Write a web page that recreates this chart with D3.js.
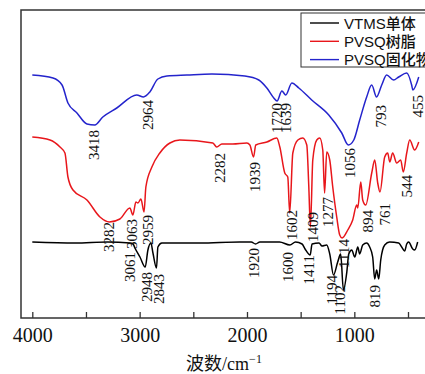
<!DOCTYPE html>
<html>
<head>
<meta charset="utf-8">
<script src="https://cdn.jsdelivr.net/npm/d3@7"></script>
<style>
  html, body { margin: 0; padding: 0; background: #fff; }
  svg { display: block; }
</style>
</head>
<body>
<div id="chart"></div>
<script>
// FTIR spectra, transmittance in arbitrary offset units
const blueWn = [4000, 3807, 3723, 3668, 3584, 3491, 3418, 3343, 3213, 3027, 2964, 2905, 2830, 2746, 2560, 2327, 2020, 1890, 1815, 1750, 1720, 1675, 1639, 1582, 1517, 1397, 1238, 1117, 1056, 1005, 950, 885, 838, 793, 745, 699, 634, 587, 512, 466, 455, 400];
const blueT = [243, 240, 233, 215, 205, 194, 193, 201, 210, 223, 221, 226, 239, 242, 243, 244, 242, 238, 230, 220, 217, 227, 223, 235, 230, 218, 203, 185, 173, 178, 198, 221, 233, 221, 233, 243, 238, 241, 245, 233, 228, 241];

const redWn = [4000, 3835, 3742, 3696, 3668, 3621, 3491, 3370, 3282, 3184, 3091, 3063, 3035, 3016, 2988, 2959, 2942, 2886, 2812, 2718, 2625, 2318, 2282, 2234, 2132, 2001, 1973, 1939, 1918, 1815, 1722, 1694, 1648, 1620, 1602, 1573, 1526, 1480, 1443, 1424, 1409, 1387, 1350, 1322, 1294, 1277, 1257, 1229, 1201, 1164, 1136, 1114, 1061, 1015, 978, 968, 940, 922, 894, 838, 810, 782, 761, 717, 689, 670, 643, 605, 568, 544, 512, 484, 438, 400];
const redT = [181, 178, 171, 165, 141, 128, 118, 101, 96, 99, 110, 103, 116, 115, 119, 106, 131, 151, 165, 175, 178, 175, 171, 174, 174, 175, 173, 161, 173, 176, 180, 171, 145, 141, 105, 165, 178, 180, 173, 131, 91, 158, 178, 180, 168, 125, 166, 158, 131, 101, 83, 80, 88, 98, 113, 110, 136, 118, 113, 145, 158, 135, 126, 161, 165, 156, 165, 155, 158, 146, 165, 178, 168, 176];

const blackWn = [4000, 3600, 3300, 3090, 3061, 3044, 2997, 2948, 2923, 2895, 2876, 2843, 2830, 2793, 2440, 2067, 1960, 1920, 1880, 1697, 1600, 1548, 1487, 1459, 1411, 1394, 1329, 1301, 1257, 1229, 1194, 1155, 1127, 1102, 1070, 1052, 1024, 996, 968, 950, 922, 885, 857, 829, 810, 792, 773, 754, 717, 671, 587, 559, 531, 512, 494, 456, 438, 410];
const blackT = [76, 75, 76, 75, 74, 70, 61, 51, 68, 75, 65, 50, 71, 75, 75, 76, 76, 74, 76, 76, 73, 76, 74, 69, 63, 74, 75, 72, 73, 64, 43, 56, 64, 28, 46, 64, 68, 61, 71, 64, 73, 75, 71, 61, 39, 48, 39, 58, 73, 76, 75, 71, 67, 74, 76, 69, 68, 76];

const seriesNames = ['VTMS单体', 'PVSQ树脂', 'PVSQ固化物'];
const seriesColors = ['#000000', '#e8161b', '#2424cc'];

// peak annotations: label text, wavenumber position, top end (T units)
const peakText = ['3418', '2964', '1720', '1639', '1056', '793', '455',
  '3282', '3063', '2959', '2282', '1939', '1602', '1409', '1277', '1114', '894', '761', '544',
  '3061', '2948', '2843', '1920', '1600', '1411', '1194', '1102', '819'];
const peakPos = [3426, 2923, 1722, 1638, 1042, 753, 409,
  3286, 3072, 2923, 2257, 1927, 1581, 1383, 1243, 1098, 875, 717, 512,
  3090, 2932, 2820, 1936, 1619, 1420, 1210, 1135, 810];
const peakTop = [188, 218, 215, 215, 170, 213, 223,
  96, 99, 103, 165, 156, 108, 106, 121, 79, 108, 115, 143,
  66, 46, 44, 70, 66, 63, 43, 33, 33];

const xTicks = [4000, 3500, 3000, 2500, 2000, 1500, 1000, 500];
const xTickLabels = [4000, 3000, 2000, 1000];

const W = 425, H = 374;
const svg = d3.select('#chart').append('svg').attr('width', W).attr('height', H);

const x = d3.scaleLinear().domain([4000, 500]).range([32.3, 408]);
const y = d3.scaleLinear().domain([0, 308]).range([318, 10]);

const frameL = 21, frameT = 10, frameB = 318, frameR = 432;

const series = [
  { wn: blackWn, t: blackT },
  { wn: redWn, t: redT },
  { wn: blueWn, t: blueT }
];

const line = d3.line()
  .x(d => x(d[0]))
  .y(d => y(d[1]))
  .curve(d3.curveMonotoneX);

series.forEach((s, i) => {
  svg.append('path')
    .datum(s.wn.map((w, j) => [w, s.t[j]]))
    .attr('fill', 'none')
    .attr('stroke', seriesColors[i])
    .attr('stroke-width', 1.5)
    .attr('stroke-linejoin', 'round')
    .attr('d', line);
});

// peak labels, rotated
svg.append('g')
  .selectAll('text')
  .data(peakText)
  .join('text')
  .attr('transform', (d, i) => `translate(${x(peakPos[i])},${y(peakTop[i])}) rotate(-90)`)
  .attr('text-anchor', 'end')
  .attr('dy', '0.35em')
  .attr('font-family', '"Liberation Serif", "Times New Roman", serif')
  .attr('font-size', 15)
  .attr('fill', '#111')
  .text(d => d);

// frame
svg.append('rect')
  .attr('x', frameL).attr('y', frameT)
  .attr('width', frameR - frameL).attr('height', frameB - frameT)
  .attr('fill', 'none')
  .attr('stroke', '#333')
  .attr('stroke-width', 1.5);

// bottom axis, ticks pointing inward
const axis = svg.append('g')
  .attr('transform', `translate(0,${frameB})`)
  .call(d3.axisBottom(x).tickValues(xTicks).tickSize(-6).tickFormat(d => xTickLabels.includes(d) ? d : ''))
  .call(g => g.select('.domain').remove());
axis.selectAll('.tick line').attr('stroke', '#333').attr('stroke-width', 1.3);
axis.selectAll('.tick text')
  .attr('y', 24)
  .attr('dy', 0)
  .attr('fill', '#111')
  .style('font-family', '"Liberation Serif", "Times New Roman", serif')
  .style('font-size', '20px');

// axis title
const title = svg.append('text')
  .attr('x', 224).attr('y', 370)
  .attr('text-anchor', 'middle')
  .attr('font-family', '"Liberation Serif", "Noto Sans CJK SC", serif')
  .attr('font-size', 18)
  .attr('fill', '#111');
title.append('tspan').text('波数/cm');
title.append('tspan').attr('dy', -7).attr('font-size', 12).text('−1');

// legend
const leg = svg.append('g');
leg.append('rect')
  .attr('x', 301).attr('y', 13)
  .attr('width', 140).attr('height', 54)
  .attr('fill', '#fff')
  .attr('stroke', '#333')
  .attr('stroke-width', 1);
seriesNames.forEach((name, i) => {
  const yy = 23 + i * 18.3;
  leg.append('line')
    .attr('x1', 310).attr('x2', 339)
    .attr('y1', yy).attr('y2', yy)
    .attr('stroke', seriesColors[i])
    .attr('stroke-width', 1.4);
  leg.append('text')
    .attr('x', 344).attr('y', yy + 5.5)
    .attr('font-family', '"Liberation Sans", Arial, "Noto Sans CJK SC", sans-serif')
    .attr('font-size', 15)
    .attr('font-weight', 500)
    .attr('fill', '#111')
    .text(name);
});
</script>
</body>
</html>
